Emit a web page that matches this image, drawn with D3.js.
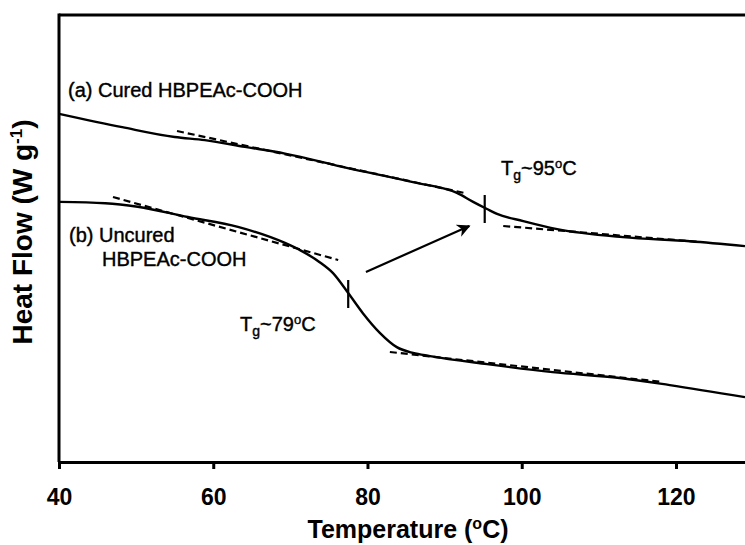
<!DOCTYPE html>
<html>
<head>
<meta charset="utf-8">
<script src="https://cdn.jsdelivr.net/npm/d3@7"></script>
<style>
  body { margin: 0; background: #fff; }
  svg { display: block; font-family: "Liberation Sans", Arial, sans-serif; }
</style>
</head>
<body>
<svg id="chart" width="745" height="545"></svg>
<script>
// ---- Data (Temperature in °C, heat flow in arbitrary units) ----
const curedT = [40, 48.2, 55.0, 58.9, 64.1, 69.3, 77.3, 85.9, 91.6, 93.7, 95.5, 96.8, 100.2, 104.6, 113.1, 121.8, 128.95];
const curedHF = [7.79, 7.49, 7.27, 7.20, 7.05, 6.90, 6.58, 6.26, 6.02, 5.82, 5.66, 5.55, 5.39, 5.21, 5.03, 4.94, 4.83];

const uncuredT = [40.1, 46.0, 50.2, 56.7, 63.2, 69.3, 71.25, 73.8, 75.5, 77.5, 79.4, 81.6, 83.8, 85.9, 88.1, 95.5, 104.0, 112.7, 119.2, 128.95];
const uncuredHF = [5.82, 5.79, 5.71, 5.48, 5.26, 4.90, 4.74, 4.47, 4.23, 3.78, 3.33, 2.89, 2.57, 2.44, 2.37, 2.19, 2.01, 1.88, 1.72, 1.45];

// tangent (dashed) lines: [T1, HF1, T2, HF2]
const tangents = [
  [55.3, 7.405, 92.6, 6.018],
  [97.6, 5.280, 123.1, 4.922],
  [47.0, 5.928, 76.2, 4.519],
  [82.9, 2.461, 118.2, 1.790]
];
// Tg markers: [T, HFlow, HFhigh]
const tgMarks = [
  [95.2, 5.347, 5.973],
  [77.5, 3.445, 4.072]
];
const arrowPts = [79.8, 4.251, 93.2, 5.280];
const xTicks = [40, 60, 80, 100, 120];

// ---- Layout ----
const svg = d3.select("#chart");
const mLeft = 59, mRight = 745, mTop = 15, mBottom = 462;
const x = d3.scaleLinear().domain([40, 128.95]).range([mLeft, mRight]);
const y = d3.scaleLinear().domain([0, 10]).range([mBottom, mTop]);

// arrow marker
svg.append("defs").append("marker")
  .attr("id", "arrow").attr("viewBox", "0 0 10 10")
  .attr("refX", 9).attr("refY", 5)
  .attr("markerWidth", 6).attr("markerHeight", 6)
  .attr("markerUnits", "strokeWidth")
  .attr("orient", "auto")
  .append("path").attr("d", "M0,0 L10,5 L0,10 L3,5 Z").attr("fill", "#000");

// top border
svg.append("line").attr("x1", mLeft).attr("x2", mRight).attr("y1", mTop).attr("y2", mTop)
  .attr("stroke", "#000").attr("stroke-width", 3);

// x axis
const xAxis = svg.append("g").attr("transform", `translate(0,${mBottom})`)
  .call(d3.axisBottom(x).tickValues(xTicks).tickSize(7).tickSizeOuter(0).tickPadding(20).tickFormat(d3.format("d")));
xAxis.select(".domain").attr("stroke-width", 3);
xAxis.selectAll(".tick line").attr("stroke-width", 3);
xAxis.selectAll(".tick text").attr("font-family", "'Liberation Sans', Arial, sans-serif")
  .attr("font-size", 23).attr("font-weight", "bold").attr("fill", "#000");

// y axis (no ticks)
const yAxis = svg.append("g").attr("transform", `translate(${mLeft},0)`)
  .call(d3.axisLeft(y).tickValues([]).tickSizeOuter(0));
yAxis.select(".domain").attr("stroke-width", 3).attr("d", `M0,${mTop - 1.5}V${mBottom}`);

// curves
const line = d3.line().x(d => x(d[0])).y(d => y(d[1])).curve(d3.curveMonotoneX);
svg.append("path").datum(d3.zip(curedT, curedHF)).attr("d", line)
  .attr("fill", "none").attr("stroke", "#000").attr("stroke-width", 2.4);
svg.append("path").datum(d3.zip(uncuredT, uncuredHF)).attr("d", line)
  .attr("fill", "none").attr("stroke", "#000").attr("stroke-width", 2.4);

// tangents
svg.selectAll(".tan").data(tangents).enter().append("line")
  .attr("x1", d => x(d[0])).attr("y1", d => y(d[1]))
  .attr("x2", d => x(d[2])).attr("y2", d => y(d[3]))
  .attr("stroke", "#000").attr("stroke-width", 2.2).attr("stroke-dasharray", "7,4");

// Tg markers
svg.selectAll(".tg").data(tgMarks).enter().append("line")
  .attr("x1", d => x(d[0])).attr("x2", d => x(d[0]))
  .attr("y1", d => y(d[1])).attr("y2", d => y(d[2]))
  .attr("stroke", "#000").attr("stroke-width", 2.2);

// arrow
svg.append("line")
  .attr("x1", x(arrowPts[0])).attr("y1", y(arrowPts[1]))
  .attr("x2", x(arrowPts[2])).attr("y2", y(arrowPts[3]))
  .attr("stroke", "#000").attr("stroke-width", 2.2).attr("marker-end", "url(#arrow)");

// annotations
const fs = 20;
function label(tx, ty, str) {
  svg.append("text").attr("x", tx).attr("y", ty).attr("font-size", fs).attr("fill", "#000")
    .attr("stroke", "#000").attr("stroke-width", 0.4).text(str);
}
label(68, 97, "(a) Cured HBPEAc-COOH");
label(69, 242, "(b) Uncured");
label(102, 266, "HBPEAc-COOH");

function tgLabel(tx, ty, val) {
  const t = svg.append("text").attr("x", tx).attr("y", ty).attr("font-size", fs).attr("fill", "#000")
    .attr("stroke", "#000").attr("stroke-width", 0.4);
  t.append("tspan").text("T");
  t.append("tspan").attr("font-size", 14).attr("dy", 5).text("g");
  t.append("tspan").attr("dy", -5).text("~" + val);
  t.append("tspan").attr("font-size", 13).attr("dy", -7).text("o");
  t.append("tspan").attr("dy", 7).text("C");
}
tgLabel(501, 175, "95");
tgLabel(240, 331, "79");

// axis titles
const xt = svg.append("text").attr("x", 408).attr("y", 538).attr("text-anchor", "middle")
  .attr("font-size", 25).attr("font-weight", "bold").attr("fill", "#000");
xt.append("tspan").text("Temperature (");
xt.append("tspan").attr("font-size", 16).attr("dy", -9).text("o");
xt.append("tspan").attr("dy", 9).text("C)");

const yt = svg.append("text").attr("transform", "translate(32,232) rotate(-90)")
  .attr("text-anchor", "middle").attr("font-size", 28).attr("font-weight", "bold").attr("fill", "#000");
yt.append("tspan").text("Heat Flow (W g");
yt.append("tspan").attr("font-size", 17).attr("dy", -10).text("-1");
yt.append("tspan").attr("dy", 10).text(")");
</script>
</body>
</html>
